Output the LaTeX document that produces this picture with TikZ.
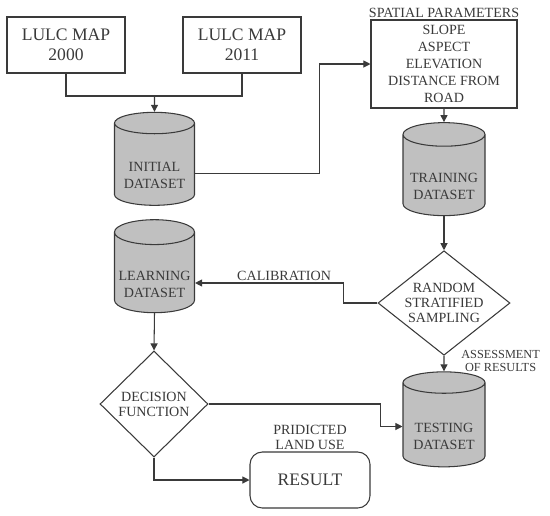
\documentclass[tikz,border=0pt]{standalone}
\usepackage{fontspec}
\setmainfont{Liberation Serif}
\usetikzlibrary{shapes.geometric, arrows.meta}
\definecolor{cylgray}{HTML}{C0C0C0}
\definecolor{inkgray}{HTML}{3A3A3A}

\begin{document}
\begin{tikzpicture}[
  box/.style={draw=inkgray, fill=white, line width=0.6pt, minimum width=2.36cm, minimum height=1.12cm, align=center, text=inkgray, font=\fontsize{10}{11.5}\selectfont, inner sep=2pt},
  parbox/.style={draw=inkgray, fill=white, line width=0.6pt, minimum width=2.92cm, minimum height=1.76cm, align=center, text=inkgray, font=\fontsize{8}{9.6}\selectfont, inner sep=1pt},
  cyl/.style={cylinder, shape border rotate=90, aspect=0.33, draw=inkgray, fill=cylgray, line width=0.6pt, minimum width=1.6cm, minimum height=1.86cm, align=center, text=inkgray, font=\fontsize{8}{9.6}\selectfont, inner sep=1pt, execute at begin node={\rule{0pt}{26pt}}},
  dia/.style={diamond, draw=inkgray, fill=white, line width=0.6pt, inner sep=-2pt, align=center, text=inkgray, font=\fontsize{8}{8.6}\selectfont},
  rbox/.style={draw=inkgray, fill=white, line width=0.6pt, rounded corners=7pt, minimum width=2.4cm, minimum height=1.12cm, align=center, text=inkgray, font=\fontsize{10}{12}\selectfont},
  arr/.style={->, line width=0.6pt, inkgray, >={Triangle[length=4pt, width=4pt]}},
  lbl/.style={font=\fontsize{8}{8.4}\selectfont, text=inkgray, align=center, inner sep=1pt},
]
\useasboundingbox (0,0) rectangle (11,-10.3);

% ── Inputs ──
\node[box] (lulc1) at (1.32, -0.90) {LULC MAP\\2000};
\node[box] (lulc2) at (4.84, -0.90) {LULC MAP\\2011};

\node[parbox] (spatial) at (8.88, -1.28)
  {SLOPE\\ASPECT\\ELEVATION\\DISTANCE FROM\\ROAD};
\node[lbl, above] (sptitle) at (spatial.north) {SPATIAL PARAMETERS};

% ── Datasets ──
\node[cyl] (init) at (3.09, -3.32) {INITIAL\\DATASET};
\node[cyl, minimum width=1.64cm] (train) at (8.88, -3.54) {TRAINING\\DATASET};
\node[cyl] (learn) at (3.09, -5.49) {LEARNING\\DATASET};
\node[cyl, minimum width=1.64cm, minimum height=1.9cm] (test) at (8.88, -8.53) {TESTING\\DATASET};

% ── Decisions ──
\node[dia, minimum width=2.64cm, minimum height=2.04cm] (samp) at (8.88, -6.06)
  {RANDOM\\STRATIFIED\\SAMPLING};
\node[dia, minimum width=2.16cm, minimum height=2.12cm] (dec) at (3.08, -8.08)
  {DECISION\\FUNCTION};

\node[rbox] (result) at (6.20, -9.60) {RESULT};
\node[lbl, above] (predlbl) at (result.north) {PRIDICTED\\LAND USE};

% ── Arrows ──
\coordinate (join) at (3.09, -1.92);
\draw[arr, -] (lulc1.south) |- (join) -| (lulc2.south);
\draw[arr] (join) -- (init.north);

\draw[arr] ([yshift=-0.15cm]init.east) -- ++(2.48,0) |- (spatial.west);
\draw[arr] (spatial.south) -- (train.north);
\draw[arr] (train.south) -- (samp.north);

\draw[arr] (samp.west) -- ++(-0.68,0) |- node[lbl, above, pos=0.7] {CALIBRATION} ([yshift=-0.17cm]learn.east);

\draw[arr] (samp.south) -- node[lbl, right=0.3cm, pos=0.35, font=\fontsize{7}{7.4}\selectfont] {ASSESSMENT\\OF RESULTS} (test.north);

\draw[arr] (learn.south) -- (dec.north);
\draw[arr] (dec.east) -- ++(3.44,0) |- (test.west);
\draw[arr] (dec.south) |- (result.west);

\end{tikzpicture}
\end{document}
